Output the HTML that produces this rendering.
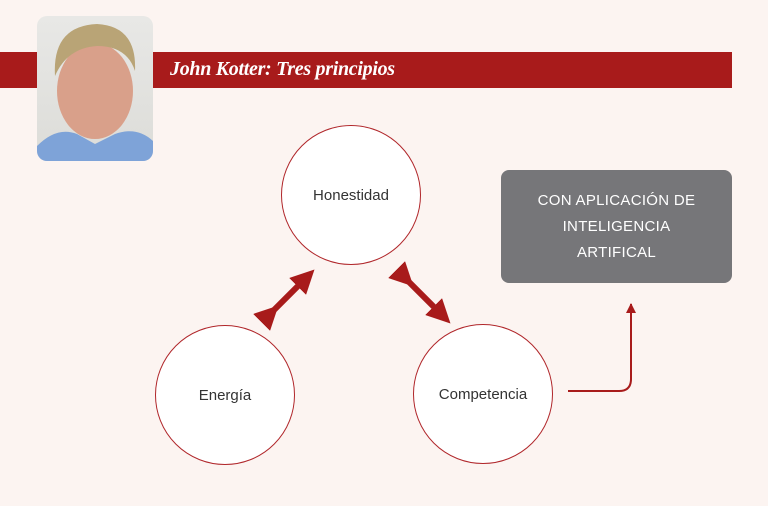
<!DOCTYPE html>
<html><head><style>
body{margin:0;width:768px;height:506px;background:#fcf4f1;position:relative;overflow:hidden;font-family:"Liberation Sans",sans-serif}
.banner{position:absolute;left:0;top:52px;width:732px;height:36px;background:#a81b1b}
.title{position:absolute;left:170px;top:58px;color:#fff;font-family:"Liberation Serif",serif;font-style:italic;font-weight:bold;font-size:20px;letter-spacing:-0.3px}
.photo{position:absolute;left:37px;top:16px;width:116px;height:145px;border-radius:10px;overflow:hidden;background:linear-gradient(#e8e8e6,#dcdcd8)}
.c{position:absolute;width:138px;height:138px;border:1.5px solid #b0262a;border-radius:50%;background:#fff;display:flex;align-items:center;justify-content:center;font-size:15px;color:#333}
.box{position:absolute;left:501px;top:170px;width:231px;height:113px;background:#767679;border-radius:8px;color:#fff;font-size:15px;text-align:center;line-height:26px;padding-top:18px;box-sizing:border-box;letter-spacing:.3px}
</style></head><body>
<div class="banner"></div>
<div class="title">John Kotter: Tres principios</div>
<div class="photo">
<svg width="116" height="145">
<path d="M0 130 Q20 110 40 118 L58 128 L78 118 Q100 110 116 125 L116 145 L0 145Z" fill="#7ea3d8"/>
<ellipse cx="58" cy="75" rx="38" ry="48" fill="#d9a08a"/>
<path d="M18 60 Q15 10 60 8 Q100 10 98 55 Q90 30 60 30 Q30 32 18 60Z" fill="#b9a476"/>
</svg></div>
<div class="c" style="left:281px;top:125px">Honestidad</div>
<div class="c" style="left:155px;top:325px">Energía</div>
<div class="c" style="left:413px;top:324px">Competencia</div>
<div class="box">CON APLICACIÓN DE<br>INTELIGENCIA<br>ARTIFICAL</div>
<svg width="768" height="506" style="position:absolute;left:0;top:0">
<defs><marker id="a" markerWidth="4" markerHeight="4" refX="2" refY="2" orient="auto"><path d="M0 0L4 2L0 4Z" fill="#a81b1b"/></marker>
<marker id="s" markerWidth="10" markerHeight="10" refX="9" refY="5" orient="auto" markerUnits="userSpaceOnUse"><path d="M0 0L10 5L0 10Z" fill="#a81b1b"/></marker></defs>
<line x1="270" y1="314" x2="306" y2="278" stroke="#a81b1b" stroke-width="6" marker-start="url(#a)" marker-end="url(#a)"/>
<line x1="405" y1="278" x2="442" y2="315" stroke="#a81b1b" stroke-width="6" marker-start="url(#a)" marker-end="url(#a)"/>
<path d="M568 391 L619 391 Q631 391 631 379 L631 304" fill="none" stroke="#a81b1b" stroke-width="2" marker-end="url(#s)"/>
</svg>
</body></html>
